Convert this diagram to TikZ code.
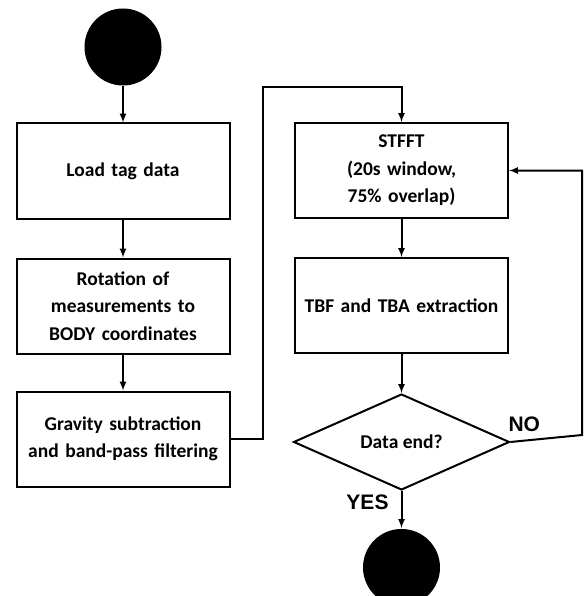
\documentclass[tikz,border=0pt]{standalone}
\usepackage{fontspec}
\setmainfont{Carlito}
\newfontfamily\arialfont{Liberation Sans}
\usetikzlibrary{positioning,shapes.geometric,arrows}

\begin{document}
\begin{tikzpicture}[
x=1pt,y=-1pt,
line width=2pt,
node distance=37pt,
terminal/.style={
  circle,
  fill=black,
  draw=none,
  minimum size=77pt,
  inner sep=0pt
  },
stepbox/.style={
  draw,
  rectangle,
  minimum width=213pt,
  minimum height=95pt,
  text width=205pt,
  align=center,
  inner sep=0pt,
  font=\bfseries\fontsize{19.5}{27.5}\selectfont
  },
decision/.style={
  draw,
  diamond,
  minimum width=216pt,
  minimum height=94pt,
  inner sep=0pt,
  font=\bfseries\fontsize{19.5}{27.5}\selectfont
  },
answer/.style={
  inner sep=0pt,
  font=\arialfont\bfseries\fontsize{21}{24}\selectfont
  },
>=latex
]
\useasboundingbox (0,0) rectangle (583,596);

% left column
\node[terminal] (start) at (123,47) {};
\node[stepbox, below=36pt of start] (load) {Load tag data};
\node[stepbox, below=38pt of load] (rot) {Rotation of\\measurements to\\BODY coordinates};
\node[stepbox, below=36pt of rot] (grav) {Gravity subtraction\\and band-pass filtering};

% right column
\node[stepbox] (stfft) at (401.5,170.5) {STFFT\\(20s window,\\75\% overlap)};
\node[stepbox, below=38pt of stfft] (tbf) {TBF and TBA extraction};
\node[decision, below=39pt of tbf] (dec) {Data end?};
\node[terminal, below=37pt of dec] (stop) {};

\coordinate (bendL) at (263,87);
\coordinate (loopR) at (582,435);

\draw[->] (start) -- (load);
\draw[->] (load) -- (rot);
\draw[->] (rot) -- (grav);
\draw[->] (grav.east) -| (bendL) -| (stfft.north);
\draw[->] (stfft) -- (tbf);
\draw[->] (tbf) -- (dec);
\draw[->] (dec) -- node[answer, pos=0, anchor=north east, xshift=-12pt, yshift=-3pt] {YES} (stop);
\draw[->] (dec.east) -- node[answer, pos=0, anchor=base west, xshift=-3pt, yshift=10pt] {NO} (loopR) |- (stfft.east);

\end{tikzpicture}
\end{document}
